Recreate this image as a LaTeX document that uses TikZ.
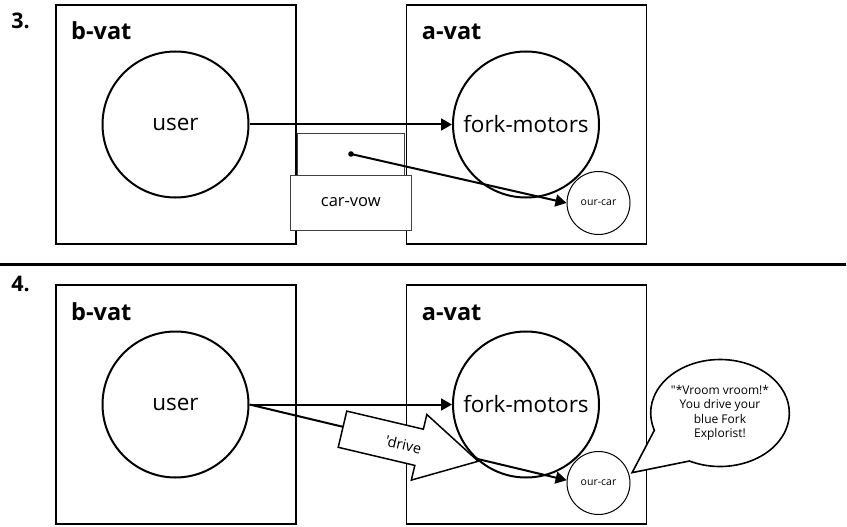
\documentclass[tikz,border=0pt]{standalone}
\usepackage{fontspec}
\setmainfont{Open Sans}[Ligatures=TeXOff]
\usetikzlibrary{arrows.meta,shapes.callouts,calc}
\begin{document}
\begin{tikzpicture}[x=1pt,y=-1pt,
  vat/.style={draw, line width=1.5pt, minimum width=240pt, minimum height=239pt, inner sep=0pt},
  big/.style={draw, circle, line width=2pt, minimum size=146pt, inner sep=0pt, font=\fontsize{22.5}{27}\selectfont},
  small/.style={draw, circle, line width=1pt, minimum size=63pt, inner sep=0pt, font=\fontsize{10.5}{12}\selectfont},
  title/.style={anchor=base west, inner sep=0pt, font=\fontsize{23.5}{28}\selectfont\bfseries},
  num/.style={inner sep=0pt, font=\fontsize{21.5}{26}\selectfont\bfseries},
  conn/.style={line width=2pt, -{Triangle[length=11pt,width=12pt]}},
  vowtop/.style={draw=black!75, line width=0.9pt, minimum width=107pt, minimum height=42pt, inner sep=0pt},
  vowbox/.style={draw=black!75, fill=white, line width=0.9pt, minimum width=121pt, minimum height=55pt, inner sep=0pt, font=\fontsize{16.5}{20}\selectfont},
  blockarrow/.style={draw, fill=white, line width=1.5pt, line join=miter},
  bubble/.style={ellipse callout, draw, fill=white, line width=1.6pt, minimum width=113pt, minimum height=107pt, callout pointer arc=45, align=center, inner sep=0pt, font=\fontsize{12}{14.3}\selectfont},
  sep/.style={line width=2.8pt}
]
\useasboundingbox (0,0) rectangle (847,527);

% ---------- panel 3 ----------
\node[num] (n3) at (20.5,21) {3.};
\node[vat] (bvat3) at (176,124.5) {};
\node[title] (bvatt3) at (71,40) {b-vat};
\node[vat] (avat3) at (526.5,124.5) {};
\node[title] (avatt3) at (421.7,40) {a-vat};
\node[big] (user3) at (175.5,124.5) {user};
\node[big] (fork3) at (526,124.5) {fork-motors};
\node[small] (car3) at (598.5,203) {our-car};
\node[vowtop] (vowtop) at (350.8,154.2) {};
\node[vowbox] (vow) at (350.8,202.5) {car-vow};
\coordinate (dot) at (351,154);
\fill (dot) circle (2.8pt);
\draw[conn] (user3) -- (fork3);
\draw[conn] (dot) -- (car3.west);

% ---------- separator ----------
\coordinate (sepL) at (0,264.3);
\coordinate (sepR) at (846,264.3);
\draw[sep] (sepL) -- (sepR);

% ---------- panel 4 ----------
\node[num] (n4) at (20.5,284) {4.};
\node[vat] (bvat4) at (176,404.5) {};
\node[title] (bvatt4) at (71,320) {b-vat};
\node[vat] (avat4) at (526.5,404.5) {};
\node[title] (avatt4) at (421.7,320) {a-vat};
\node[big] (user4) at (175.5,404.5) {user};
\node[small] (car4) at (598.5,483) {our-car};
\draw[conn] (user4.east) -- (car4.175);
\begin{scope}[shift={(342.5,429.2)}, rotate=-13.3]
  \draw[blockarrow] (0,-18.6) -- (78.7,-18.6) -- (78.7,-33.7) -- (139.4,0) -- (78.7,33.7) -- (78.7,18.6) -- (0,18.6) -- cycle;
  \node[transform shape, inner sep=0pt, font=\fontsize{14.5}{17}\selectfont] (drive) at (63,1) {'drive};
\end{scope}
\node[big] (fork4) at (526,404.5) {fork-motors};
\draw[conn] (user4) -- (fork4);
\coordinate (bubtip) at ([shift={(3,-1)}]car4.17);
\node[bubble, callout absolute pointer={(bubtip)}] (say) at (720,413) {"*Vroom vroom!*\\You drive your\\blue Fork\\Explorist!};
\end{tikzpicture}
\end{document}
